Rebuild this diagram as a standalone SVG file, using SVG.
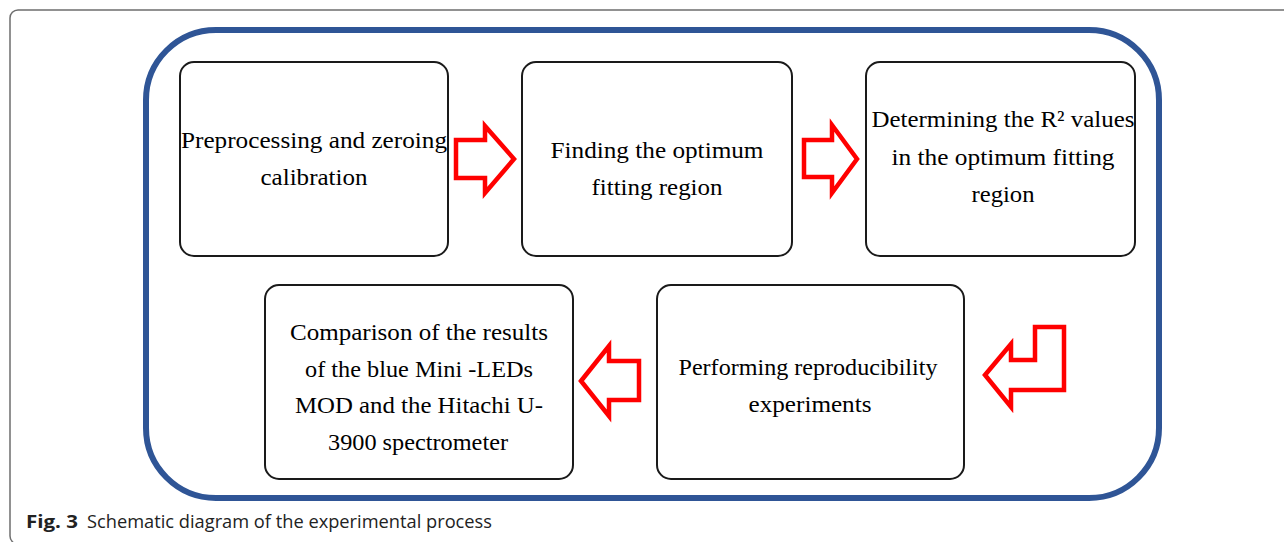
<svg xmlns="http://www.w3.org/2000/svg" width="1284" height="542" viewBox="0 0 1284 542">
  <style>
    .frame { fill: #ffffff; stroke: #6e6e6e; stroke-width: 1.5; }
    .outer { fill: none; stroke: #2f5596; stroke-width: 6; }
    .box { fill: #ffffff; stroke: #1a1a1a; stroke-width: 2; }
    .arrow { fill: #ffffff; stroke: #ff0000; stroke-width: 4.5; stroke-linejoin: miter; }
    .t { font-family: "Liberation Serif", "Times New Roman", serif; font-size: 23.5px; fill: #000000; text-anchor: middle; }
    .cap { font-family: "Open Sans", "Liberation Sans", Arial, sans-serif; font-size: 18.5px; fill: #222222; }
    .capb { font-weight: bold; }
  </style>
  <rect x="0" y="0" width="1284" height="542" fill="#ffffff"/>
  <rect class="frame" x="10" y="10" width="1290" height="534" rx="8"/>
  <rect class="outer" x="146" y="30" width="1013" height="468" rx="70"/>

  <g id="node1">
    <rect class="box" x="180" y="62" width="268" height="194" rx="14"/>
    <text class="t" x="314" y="148" textLength="266" lengthAdjust="spacingAndGlyphs">Preprocessing and zeroing</text>
    <text class="t" x="314" y="185" textLength="107" lengthAdjust="spacingAndGlyphs">calibration</text>
  </g>
  <g id="node2">
    <rect class="box" x="522" y="62" width="270" height="194" rx="14"/>
    <text class="t" x="657" y="158" textLength="213" lengthAdjust="spacingAndGlyphs">Finding the optimum</text>
    <text class="t" x="657" y="195" textLength="131" lengthAdjust="spacingAndGlyphs">fitting region</text>
  </g>
  <g id="node3">
    <rect class="box" x="866" y="62" width="269" height="194" rx="14"/>
    <text class="t" x="1003" y="127" textLength="263" lengthAdjust="spacingAndGlyphs">Determining the R² values</text>
    <text class="t" x="1003" y="165" textLength="223" lengthAdjust="spacingAndGlyphs">in the optimum fitting</text>
    <text class="t" x="1003" y="202" textLength="63" lengthAdjust="spacingAndGlyphs">region</text>
  </g>
  <g id="node4">
    <rect class="box" x="265" y="285" width="308" height="194" rx="14"/>
    <text class="t" x="419" y="340" textLength="258" lengthAdjust="spacingAndGlyphs">Comparison of the results</text>
    <text class="t" x="419" y="377" textLength="228" lengthAdjust="spacingAndGlyphs">of the blue Mini -LEDs</text>
    <text class="t" x="419" y="413" textLength="248" lengthAdjust="spacingAndGlyphs">MOD and the Hitachi U-</text>
    <text class="t" x="418" y="450" textLength="180" lengthAdjust="spacingAndGlyphs">3900 spectrometer</text>
  </g>
  <g id="node5">
    <rect class="box" x="657" y="285" width="307" height="194" rx="14"/>
    <text class="t" x="808" y="375" textLength="259" lengthAdjust="spacingAndGlyphs">Performing reproducibility</text>
    <text class="t" x="810" y="412" textLength="123" lengthAdjust="spacingAndGlyphs">experiments</text>
  </g>

  <g id="connectors">
    <polygon class="arrow" points="456,140 485,140 485,126 514,159 485,193 485,178 456,178"/>
    <polygon class="arrow" points="804,140 832,140 832,125 857,159 832,193 832,177 804,177"/>
    <polygon class="arrow" points="985,375 1011,344 1011,360 1035,360 1035,327 1064,327 1064,390 1011,390 1011,407"/>
    <polygon class="arrow" points="581,381 609,346 609,361 639,361 639,400 609,400 609,416"/>
  </g>

  <text class="cap" x="26" y="528"><tspan class="capb" textLength="52" lengthAdjust="spacingAndGlyphs">Fig. 3</tspan><tspan x="87" textLength="405" lengthAdjust="spacingAndGlyphs">Schematic diagram of the experimental process</tspan></text>
</svg>
